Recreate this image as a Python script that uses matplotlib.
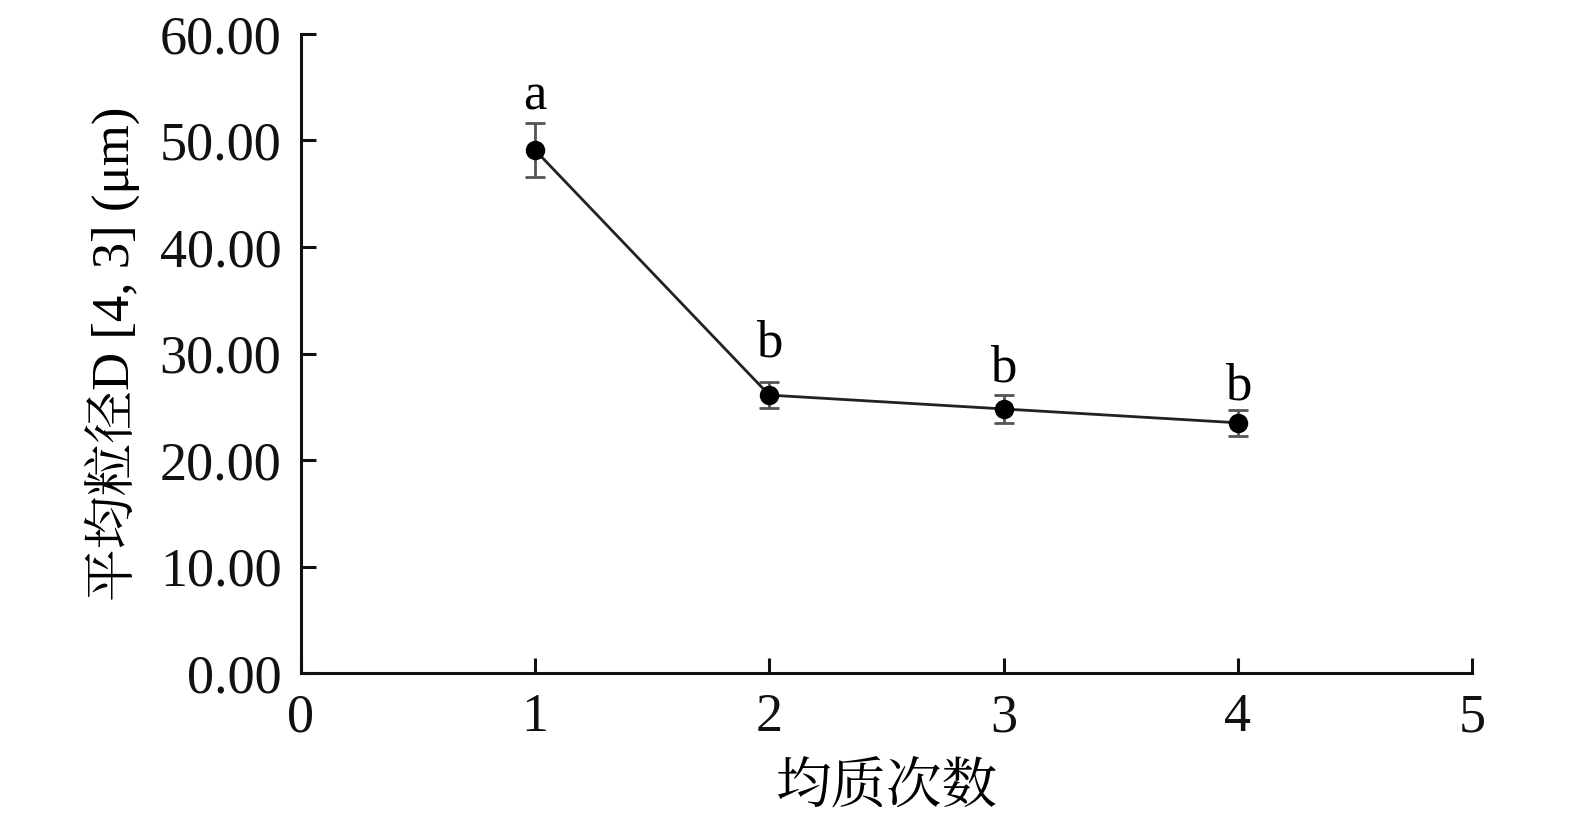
import matplotlib
matplotlib.use("Agg")
import matplotlib.pyplot as plt

plt.rcParams['font.family'] = ['Liberation Serif', 'Noto Serif CJK SC', 'Noto Sans CJK SC', 'DejaVu Sans']

x_vals = [1, 2, 3, 4]
means = [49.1, 26.1, 24.8, 23.5]
errors = [2.5, 1.2, 1.3, 1.2]
letters = ['a', 'b', 'b', 'b']
letter_y = [52.9, 29.7, 27.4, 25.7]
x_ticks = [0, 1, 2, 3, 4, 5]
y_ticks = [0, 10, 20, 30, 40, 50, 60]
y_ticklabels = ['0.00', '10.00', '20.00', '30.00', '40.00', '50.00', '60.00']
x_label = '均质次数'
y_label = '平均粒径D [4, 3] (μm)'

fig = plt.figure(figsize=(15.75, 8.27), dpi=100)
ax = fig.add_axes([0.191, 0.186, 0.7436, 0.773])

ax.errorbar(x_vals, means, yerr=errors, fmt='none', ecolor='#555555',
            elinewidth=2, capsize=7, capthick=2, zorder=2)
ax.plot(x_vals, means, color='#222222', lw=2, marker='o', markersize=13,
        markerfacecolor='black', markeredgecolor='black', zorder=3)

for xv, ly, lab in zip(x_vals, letter_y, letters):
    ax.text(xv, ly, lab, ha='center', va='baseline', fontsize=38,
            family='Liberation Serif')

ax.set_xlim(0, 5)
ax.set_ylim(0, 60)
ax.set_xticks(x_ticks)
ax.set_xticklabels([str(t) for t in x_ticks])
ax.set_yticks(y_ticks)
ax.set_yticklabels(y_ticklabels)

for s in ['top', 'right']:
    ax.spines[s].set_visible(False)
for s in ['left', 'bottom']:
    ax.spines[s].set_linewidth(2.2)
    ax.spines[s].set_color('#111111')

ax.tick_params(direction='in', length=11, width=2.2, labelsize=39, colors='#111111')
ax.tick_params(axis='x', pad=14)
ax.tick_params(axis='y', pad=14)

ax.set_xlabel(x_label, fontsize=40, labelpad=10,
              family=['Noto Serif CJK SC', 'Noto Sans CJK SC', 'Liberation Serif'])
ax.set_ylabel(y_label, fontsize=38, labelpad=14,
              family=['Liberation Serif', 'Noto Serif CJK SC', 'Noto Sans CJK SC'])

fig.savefig('out.png', dpi=100, facecolor='white')
